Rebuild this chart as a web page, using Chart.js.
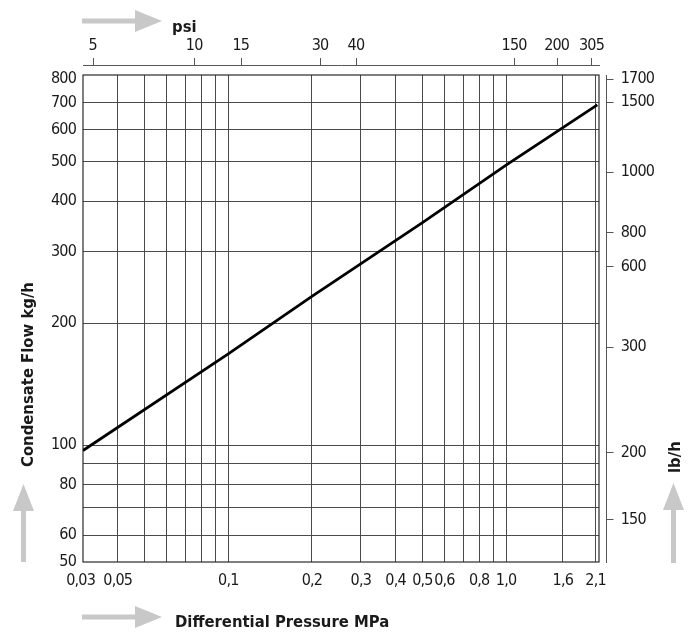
<!DOCTYPE html>
<html><head><meta charset="utf-8">
<script src="https://cdn.jsdelivr.net/npm/chart.js@4.4.1/dist/chart.umd.min.js"></script>
<style>html,body{margin:0;padding:0;background:#fff}#wrap{width:700px;height:639px;position:relative}</style>
</head><body><div id="wrap"><canvas id="c"></canvas></div>
<script>
// ---- data ----
const pressureMPa = [0.03, 0.1, 0.2, 0.5, 1.0, 2.13];
const flowKgH = [97, 168, 233, 354, 491, 691];

const xGridValues = [0.04,0.05,0.06,0.07,0.08,0.09,0.1,0.2,0.3,0.4,0.5,0.6,0.7,0.8,0.9,1.0,1.6,2.1];
const xLabelValues = [0.0294,0.04,0.1,0.2,0.3,0.4,0.5,0.6,0.8,1.0,1.6,2.1];
const xLabelTexts = ['0,03','0,05','0,1','0,2','0,3','0,4','0,5','0,6','0,8','1,0','1,6','2,1'];

const yGridValues = [60,70,80,90,100,200,300,400,500,600,700];
const yLabelValues = [50,60,80,100,200,300,400,500,600,700,800];
const yLabelTexts = ['50','60','80','100','200','300','400','500','600','700','800'];

const psiPositionsMPa = [0.0325,0.0754,0.111,0.214,0.288,1.069,1.521,2.029];
const psiLabels = ['5','10','15','30','40','150','200','305'];

const lbhPositionsKgH = [801,702,472,335,276,175,96,65.6];
const lbhLabels = ['1700','1500','1000','800','600','300','200','150'];

const X_MIN = 0.03, X_MAX = 2.16, Y_MIN = 51.5, Y_MAX = 819;

// ---- helpers ----
function buildTicks(gridVals, labelVals, labelTexts, min, max, clamp) {
  const map = new Map();
  gridVals.forEach(v => map.set(v, {value: v, grid: true, lbl: ''}));
  labelVals.forEach((v, i) => {
    const cv = clamp ? Math.min(Math.max(v, min), max) : v;
    const t = map.get(cv) || {value: cv, grid: false, lbl: ''};
    t.lbl = labelTexts[i];
    map.set(cv, t);
  });
  return [...map.values()].sort((a, b) => a.value - b.value);
}
const tickFont = {family: "'DejaVu Sans Condensed','DejaVu Sans',sans-serif", size: 16};
const titleFont = "bold 16.5px 'DejaVu Sans Condensed','DejaVu Sans',sans-serif";
const GRID = '#4a4a4a';
const TXT = '#1a1a1a';

const deco = {
  id: 'deco',
  beforeDraw(chart) {
    chart.ctx.letterSpacing = '-0.8px';
  },
  beforeDatasetsDraw(chart) {
    const {ctx, chartArea: a} = chart;
    ctx.save();
    ctx.strokeStyle = '#2a2a2a';
    ctx.lineWidth = 1.2;
    ctx.strokeRect(a.left, a.top, a.right - a.left, a.bottom - a.top);
    ctx.restore();
  },
  afterDraw(chart) {
    const {ctx, chartArea: a} = chart;
    const x2 = chart.scales.x2, y2 = chart.scales.y2;
    ctx.save();
    ctx.letterSpacing = '0px';
    ctx.strokeStyle = '#555'; ctx.lineWidth = 1;
    // top psi axis line + ticks
    ctx.beginPath();
    ctx.moveTo(a.left, 65.5); ctx.lineTo(a.right + 1, 65.5);
    psiPositionsMPa.forEach(v => {
      const px = Math.round(x2.getPixelForValue(v)) + 0.5;
      ctx.moveTo(px, 65.5); ctx.lineTo(px, 58);
    });
    // right lb/h axis line + ticks
    const rx = a.right + 7.5;
    ctx.moveTo(rx, a.top); ctx.lineTo(rx, a.bottom + 1);
    lbhPositionsKgH.forEach(v => {
      const py = Math.round(y2.getPixelForValue(v)) + 0.5;
      ctx.moveTo(rx, py); ctx.lineTo(rx + 7, py);
    });
    ctx.stroke();

    // gray arrows
    ctx.fillStyle = '#c8c8c8';
    const hArrow = (x0, y) => {
      ctx.fillRect(x0, y - 2.5, 54, 5);
      ctx.beginPath(); ctx.moveTo(x0 + 53, y - 11); ctx.lineTo(x0 + 80, y); ctx.lineTo(x0 + 53, y + 11); ctx.closePath(); ctx.fill();
    };
    const vArrow = (x, yBottom, yTip) => {
      ctx.fillRect(x - 2.5, yTip + 26, 5, yBottom - yTip - 26);
      ctx.beginPath(); ctx.moveTo(x - 10.5, yTip + 27); ctx.lineTo(x, yTip); ctx.lineTo(x + 10.5, yTip + 27); ctx.closePath(); ctx.fill();
    };
    hArrow(82, 21);
    hArrow(82, 617);
    vArrow(23.5, 562, 484);
    vArrow(673.5, 563, 483);

    // titles
    ctx.fillStyle = TXT;
    ctx.font = titleFont;
    ctx.textBaseline = 'alphabetic';
    ctx.textAlign = 'left';
    ctx.fillText('psi', 172, 32);
    ctx.fillText('Differential Pressure MPa', 175, 627);
    ctx.save(); ctx.translate(33, 467); ctx.rotate(-Math.PI / 2);
    ctx.fillText('Condensate Flow kg/h', 0, 0); ctx.restore();
    ctx.save(); ctx.translate(680, 473); ctx.rotate(-Math.PI / 2);
    ctx.fillText('lb/h', 0, 0); ctx.restore();
    ctx.restore();
  }
};

const gridColor = c => (c.tick && c.tick.grid) ? GRID : 'rgba(0,0,0,0)';

new Chart(document.getElementById('c'), {
  type: 'line',
  data: {
    datasets: [{
      data: pressureMPa.map((x, i) => ({x, y: flowKgH[i]})),
      borderColor: '#000', borderWidth: 2.8, pointRadius: 0, tension: 0, fill: false
    }]
  },
  options: {
    responsive: true, maintainAspectRatio: false, animation: false, devicePixelRatio: 1,
    layout: {padding: 0},
    plugins: {legend: {display: false}, tooltip: {enabled: false}},
    scales: {
      x: {
        type: 'logarithmic', position: 'bottom', min: X_MIN, max: X_MAX, bounds: 'data',
        afterBuildTicks: s => { s.ticks = buildTicks(xGridValues, xLabelValues, xLabelTexts, X_MIN, X_MAX, false); },
        afterFit: s => { s.height = 77; },
        grid: {color: gridColor, lineWidth: 1, drawTicks: false},
        border: {display: false},
        ticks: {autoSkip: false, maxRotation: 0, padding: 9.5, font: tickFont, color: TXT,
                callback: (v, i, t) => t[i].lbl}
      },
      x2: {
        type: 'logarithmic', position: 'top', min: X_MIN, max: X_MAX, bounds: 'data',
        afterBuildTicks: s => { s.ticks = psiPositionsMPa.map((v, i) => ({value: v, lbl: psiLabels[i]})); },
        afterFit: s => { s.height = 75; },
        grid: {display: false, drawTicks: false, drawOnChartArea: false},
        border: {display: false},
        ticks: {autoSkip: false, maxRotation: 0, padding: 19.5, font: tickFont, color: TXT,
                callback: (v, i, t) => t[i].lbl}
      },
      y: {
        type: 'logarithmic', position: 'left', min: Y_MIN, max: Y_MAX, bounds: 'data',
        afterBuildTicks: s => { s.ticks = buildTicks(yGridValues, yLabelValues, yLabelTexts, Y_MIN, Y_MAX, true); },
        afterFit: s => { s.width = 83; },
        grid: {color: gridColor, lineWidth: 1, drawTicks: false},
        border: {display: false},
        ticks: {autoSkip: false, padding: 7, font: tickFont, color: TXT,
                callback: (v, i, t) => t[i].lbl}
      },
      y2: {
        type: 'logarithmic', position: 'right', min: Y_MIN, max: Y_MAX, bounds: 'data',
        afterBuildTicks: s => { s.ticks = lbhPositionsKgH.map((v, i) => ({value: v, lbl: lbhLabels[i]})); },
        afterFit: s => { s.width = 101; },
        grid: {display: false, drawTicks: false, drawOnChartArea: false},
        border: {display: false},
        ticks: {autoSkip: false, padding: 21.7, font: tickFont, color: TXT,
                callback: (v, i, t) => t[i].lbl}
      }
    }
  },
  plugins: [deco]
});
</script></body></html>
